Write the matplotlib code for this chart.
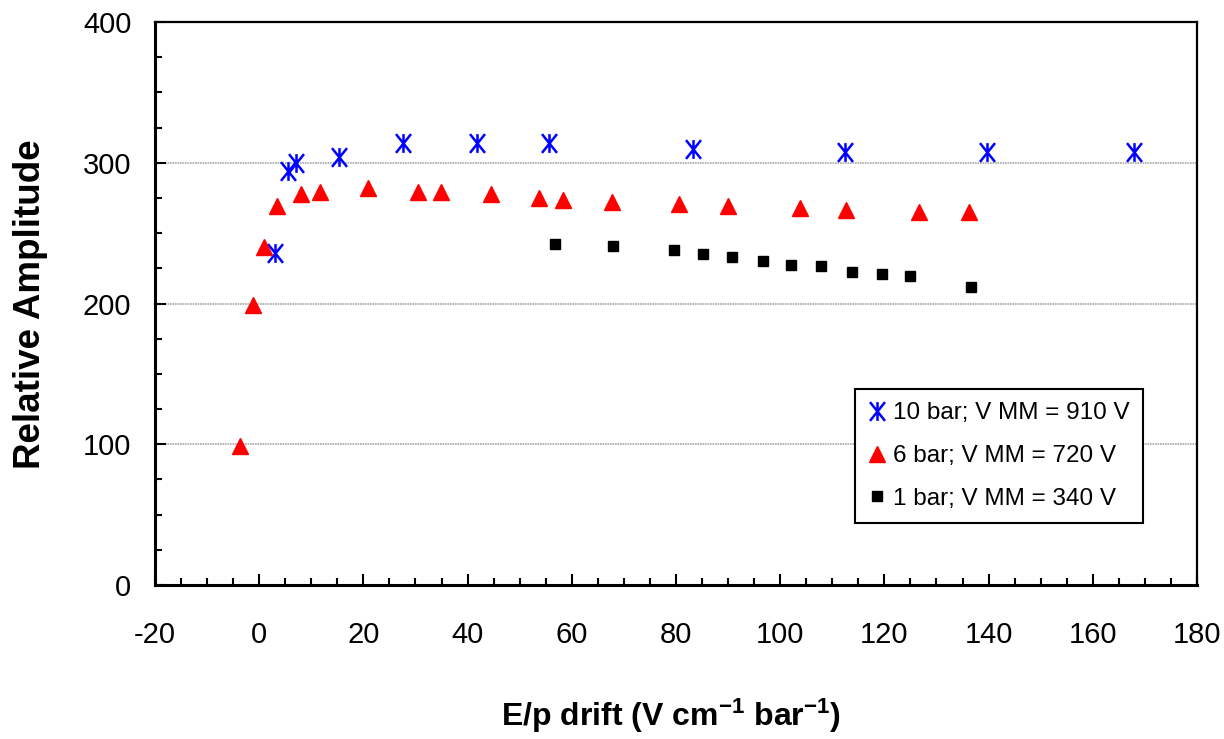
import matplotlib
matplotlib.use("Agg")
import matplotlib.pyplot as plt
from matplotlib.path import Path
from matplotlib.ticker import MultipleLocator

plt.rcParams["font.family"] = ["Liberation Sans", "DejaVu Sans"]
plt.rcParams["axes.unicode_minus"] = False
plt.rcParams["mathtext.fontset"] = "custom"
plt.rcParams["mathtext.rm"] = "Liberation Sans:bold"
plt.rcParams["mathtext.bf"] = "Liberation Sans:bold"
plt.rcParams["mathtext.default"] = "bf"

# 10 bar; V MM = 910 V
ep_10bar = [3.1, 5.6, 7.0, 15.4, 27.7, 41.8, 55.7, 83.3, 112.5, 139.7, 168.0]
amp_10bar = [236, 294, 300, 304, 314, 314, 314, 309.5, 308, 308, 308]

# 6 bar; V MM = 720 V
ep_6bar = [-3.6, -1.2, 1.0, 3.5, 8.0, 11.7, 20.9, 30.5, 34.9, 44.5, 53.7, 58.4,
           67.7, 80.6, 89.9, 103.9, 112.7, 126.7, 136.2]
amp_6bar = [99, 199, 240, 269, 278, 279, 282, 279, 279, 278, 275, 273.5,
            271.8, 270.4, 269, 267.6, 266.2, 264.8, 264.8]

# 1 bar; V MM = 340 V
ep_1bar = [56.7, 68.0, 79.6, 85.1, 90.8, 96.7, 102.1, 107.9, 113.8, 119.5, 125.0, 136.6]
amp_1bar = [242, 240.6, 237.8, 235, 233.3, 230.5, 227.7, 226.3, 222.1, 220.7, 219.3, 212]

labels = ["10 bar; V MM = 910 V", "6 bar; V MM = 720 V", "1 bar; V MM = 340 V"]

# Excel-style asterisk: vertical bar plus an X
star = Path([(0, -1), (0, 1), (-0.8, -1), (0.8, 1), (-0.8, 1), (0.8, -1)],
            [Path.MOVETO, Path.LINETO, Path.MOVETO, Path.LINETO, Path.MOVETO, Path.LINETO])

fig = plt.figure(figsize=(12.24, 7.39), dpi=100)
ax = fig.add_axes([0.1266, 0.2084, 0.8513, 0.7618])

ax.plot(ep_10bar, amp_10bar, ls="none", marker=star, ms=13.5, mew=1.8,
        color="#0000ff", label=labels[0], zorder=3)
ax.plot(ep_6bar, amp_6bar, ls="none", marker="^", ms=12, color="#ff0000",
        label=labels[1], zorder=3)
ax.plot(ep_1bar, amp_1bar, ls="none", marker="s", ms=7.5, color="black",
        label=labels[2], zorder=3)

ax.set_xlim(-20, 180)
ax.set_ylim(0, 400)
ax.xaxis.set_major_locator(MultipleLocator(20))
ax.xaxis.set_minor_locator(MultipleLocator(5))
ax.yaxis.set_major_locator(MultipleLocator(100))
ax.yaxis.set_minor_locator(MultipleLocator(25))
ax.tick_params(which="both", direction="in", width=1.5, labelsize=21)
ax.tick_params(which="major", length=8)
ax.tick_params(which="minor", length=5)
ax.tick_params(axis="x", which="major", pad=26)
ax.tick_params(axis="y", which="major", pad=17)

ax.grid(axis="y", which="major", color="#a8a8a8", lw=1.2, ls=(0, (1, 0.5)))
ax.set_axisbelow(True)
for side in ["left", "bottom"]:
    ax.spines[side].set_linewidth(2.2)
for side in ["top", "right"]:
    ax.spines[side].set_linewidth(1.6)

ax.set_xlabel("E/p drift (V cm$^{-1}$ bar$^{-1}$)", fontsize=23, fontweight="bold")
ax.set_ylabel("Relative Amplitude", fontsize=26.5, fontweight="bold")
ax.xaxis.set_label_coords(0.495, -0.199)
ax.yaxis.set_label_coords(-0.103, 0.499)

leg = ax.legend(loc="lower left", bbox_to_anchor=(0.672, 0.11), fontsize=17.5,
                frameon=True, fancybox=False, framealpha=1, edgecolor="black",
                handlelength=0.7, handletextpad=0.3, labelspacing=0.85,
                borderpad=0.55, borderaxespad=0)
leg.get_frame().set_linewidth(1.5)

fig.savefig("out.png", dpi=100)
